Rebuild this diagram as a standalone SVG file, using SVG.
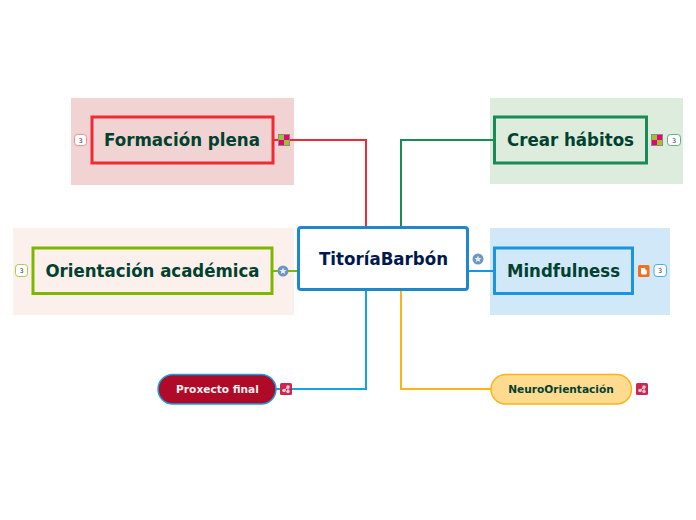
<svg xmlns="http://www.w3.org/2000/svg" width="696" height="520" viewBox="0 0 696 520">
<style>
text{font-family:"DejaVu Sans",sans-serif;font-weight:bold;text-anchor:middle;fill:#00412f}
.t{font-size:17px}
.s{font-size:10.6px}
.b{stroke-width:3;stroke-linejoin:miter}
.c{fill:none;stroke-width:2}
.n{font-size:6.5px;font-weight:normal;fill:#335}
.cnt{fill:#fff;stroke-width:1}
</style>
<defs>
<g id="sq"><rect x="-6" y="-6" width="12" height="12" fill="#8a8a80"/><path d="M-5-5h5v5h-5z" fill="#9cc22c"/><path d="M0-5h5v5h-5z" fill="#e6007e"/><path d="M-5 0h5v5h-5z" fill="#e6007e"/><path d="M0 0h5v5h-5z" fill="#9cc22c"/></g>
<g id="fav"><circle r="5.500" fill="#6c97c4"/><path d="M0-3.600 1-1.100 3.500-1 1.600 .6 2.200 3 0 1.700-2.200 3-1.600 .6-3.500-1-1-1.100z" fill="#e8eef6"/></g>
<g id="mm"><rect x="-6" y="-6" width="12" height="12" rx="1.500" fill="#c8274f"/><circle cx="-2" cy="1.500" r="1.800" fill="#f6c8d4"/><circle cx="2" cy="-2" r="1.800" fill="#f6c8d4"/><circle cx="2" cy="2.500" r="1.800" fill="#f6c8d4"/><path d="M-2 1.500 2-2V2.500" stroke="#f6c8d4" fill="none"/></g>
</defs>
<rect width="696" height="520" fill="#fff"/>
<rect x="71" y="98" width="223" height="87" fill="#f2d3d3"/>
<rect x="490" y="98" width="193" height="86" fill="#ddecdc"/>
<rect x="13" y="228" width="281" height="87" fill="#fcf0ec"/>
<rect x="490" y="228" width="180" height="87" fill="#d1e8f9"/>
<g id="connectors">
<path class="c" stroke="#ee2a33" d="M366 228V140H273"/>
<path class="c" stroke="#1a8a57" d="M401 228V140H494"/>
<path class="c" stroke="#7db700" d="M298 271H273"/>
<path class="c" stroke="#1b95e0" d="M467 271H494"/>
<path class="c" stroke="#12a5e4" d="M366 289V389H276"/>
<path class="c" stroke="#fcb316" d="M401 289V389H491"/>
</g>
<g id="center"><rect x="298.500" y="227.500" width="169" height="62" rx="2.500" fill="#fff" stroke="#1f88cb" stroke-width="3"/><text class="t" x="383.500" y="265" textLength="129" lengthAdjust="spacingAndGlyphs" style="fill:#00194d">TitoríaBarbón</text><use href="#fav" x="478" y="259"/></g>
<g id="formacion"><rect class="b" x="92" y="117" width="181" height="46" fill="#f2d3d3" stroke="#ee2a33"/><text class="t" x="182" y="146" textLength="156" lengthAdjust="spacingAndGlyphs">Formación plena</text><use href="#sq" x="284" y="140"/><rect class="cnt" x="74.500" y="134.500" width="12" height="11" rx="3" stroke="#f08a90"/><text class="n" x="80.500" y="142.500">3</text></g>
<g id="habitos"><rect class="b" x="494.500" y="117" width="152" height="46" fill="#ddecdc" stroke="#1a8a57"/><text class="t" x="570.500" y="146" textLength="127" lengthAdjust="spacingAndGlyphs">Crear hábitos</text><use href="#sq" x="657" y="140"/><rect class="cnt" x="667.500" y="134.500" width="13" height="11" rx="3" stroke="#60ab87"/><text class="n" x="674" y="142.500">3</text></g>
<g id="orientacion"><rect class="b" x="33" y="248" width="239" height="45.500" fill="#fcf0ec" stroke="#7db700"/><text class="t" x="152.500" y="277" textLength="214" lengthAdjust="spacingAndGlyphs">Orientación académica</text><use href="#fav" x="283" y="271"/><rect class="cnt" x="15.500" y="264.500" width="12" height="12" rx="3" stroke="#a0cc50"/><text class="n" x="21.500" y="273">3</text></g>
<g id="mindfulness"><rect class="b" x="494.500" y="248" width="138" height="45.500" fill="#d1e8f9" stroke="#1b95e0"/><text class="t" x="563.500" y="277" textLength="113" lengthAdjust="spacingAndGlyphs">Mindfulness</text><rect x="638" y="265" width="11.500" height="12" rx="1.500" fill="#f4701f"/><path d="M641 268h3.500q1 0 1 1.500v.5q1.500 0 1.500 1v2q0 1.500-1.500 1.500h-3q-1.500 0-1.500-1.500z" fill="#fff"/><rect class="cnt" x="654" y="264.500" width="12.500" height="12" rx="3" stroke="#45adec"/><text class="n" x="660" y="273">3</text></g>
<g id="proxecto"><rect x="158" y="374.500" width="118" height="29.500" rx="14.700" fill="#b00a29" stroke="#12a5e4" stroke-width="1.500"/><text class="s" x="217.500" y="393" style="fill:#f6f0f0">Proxecto final</text><use href="#mm" x="286" y="389"/></g>
<g id="neuro"><rect x="491" y="374.500" width="140.500" height="29.500" rx="14.700" fill="#fedb8f" stroke="#fcb316" stroke-width="1.500"/><text class="s" x="561" y="393">NeuroOrientación</text><use href="#mm" x="642" y="389"/></g>
</svg>
